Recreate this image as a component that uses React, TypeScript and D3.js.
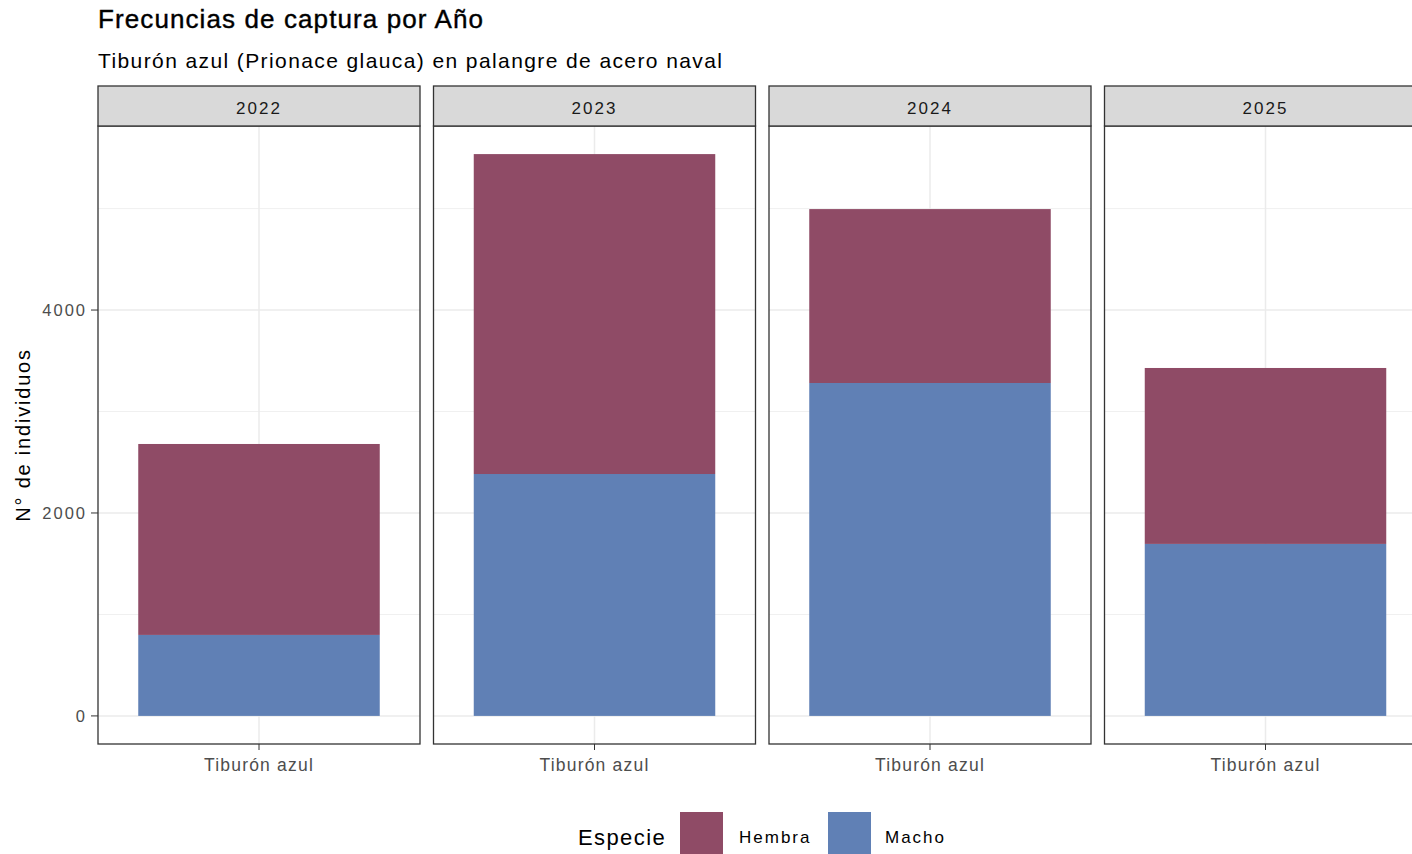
import React from 'react';
import * as d3 from 'd3';

const years = ['2022', '2023', '2024', '2025'];
const macho = [798, 2384, 3281, 1695];
const hembra = [1882, 3153, 1714, 1734];
const yTicks = [0, 2000, 4000];
const yMinor = [1000, 3000, 5000];
const category = 'Tiburón azul';

const colHembra = '#8f4b66';
const colMacho = '#6080b5';

export default function App() {
  const W = 1412, H = 854;
  const panelTop = 126, panelBottom = 744, stripTop = 86;
  const left0 = 98, panelW = 322, gap = 13.5;
  const totals = macho.map((m, i) => m + hembra[i]);
  const maxT = d3.max(totals) as number;
  const y = d3.scaleLinear().domain([-maxT * 0.05, maxT * 1.05]).range([panelBottom, panelTop]);
  const font = 'Liberation Sans, Arial, sans-serif';

  return (
    <svg width={W} height={H} style={{ position: 'absolute', left: 0, top: 0, background: '#fff' }} fontFamily={font}>
      <text x={98} y={28} fontSize={26} letterSpacing={1.1} stroke="#000" strokeWidth={0.4} fill="#000">Frecuncias de captura por Año</text>
      <text x={98} y={68} fontSize={21} letterSpacing={1.4} fill="#000">Tiburón azul (Prionace glauca) en palangre de acero naval</text>
      <text transform={`translate(30,${(panelTop + panelBottom) / 2}) rotate(-90)`} textAnchor="middle" fontSize={20} letterSpacing={1.8}>N° de individuos</text>
      {yTicks.map(t => (
        <g key={t}>
          <text x={87} y={y(t) + 6} textAnchor="end" fontSize={16.5} letterSpacing={2} fill="#4d4d4d">{t}</text>
          <line x1={91} x2={98} y1={y(t)} y2={y(t)} stroke="#333" />
        </g>
      ))}
      {years.map((yr, i) => {
        const x0 = left0 + i * (panelW + gap);
        const x = d3.scaleBand().domain([category]).range([x0, x0 + panelW]).paddingInner(0.25).paddingOuter(0.125);
        const bx = x(category) as number;
        const cx = bx + x.bandwidth() / 2;
        return (
          <g key={yr}>
            {yMinor.map(t => <line key={t} x1={x0} x2={x0 + panelW} y1={y(t)} y2={y(t)} stroke="#f0f0f0" strokeWidth={1} />)}
            {yTicks.map(t => <line key={t} x1={x0} x2={x0 + panelW} y1={y(t)} y2={y(t)} stroke="#ebebeb" strokeWidth={1.5} />)}
            <line x1={cx} x2={cx} y1={panelTop} y2={panelBottom} stroke="#ebebeb" strokeWidth={1.5} />
            <rect x={bx} width={x.bandwidth()} y={y(macho[i])} height={y(0) - y(macho[i])} fill={colMacho} />
            <rect x={bx} width={x.bandwidth()} y={y(totals[i])} height={y(macho[i]) - y(totals[i])} fill={colHembra} />
            <rect x={x0} y={panelTop} width={panelW} height={panelBottom - panelTop} fill="none" stroke="#333" strokeWidth={1.3} />
            <rect x={x0} y={stripTop} width={panelW} height={panelTop - stripTop} fill="#d9d9d9" stroke="#333" strokeWidth={1.3} />
            <text x={x0 + panelW / 2} y={114} textAnchor="middle" fontSize={17} letterSpacing={2} fill="#1a1a1a">{yr}</text>
            <line x1={cx} x2={cx} y1={panelBottom} y2={panelBottom + 6} stroke="#333" />
            <text x={cx} y={771} textAnchor="middle" fontSize={17.5} letterSpacing={1.2} fill="#4d4d4d">{category}</text>
          </g>
        );
      })}
      <text x={578} y={845} fontSize={22} letterSpacing={1.4}>Especie</text>
      <rect x={680} y={812} width={43} height={43} fill={colHembra} />
      <text x={739} y={843} fontSize={17} letterSpacing={2}>Hembra</text>
      <rect x={828} y={812} width={43} height={43} fill={colMacho} />
      <text x={885} y={843} fontSize={17} letterSpacing={2}>Macho</text>
    </svg>
  );
}
